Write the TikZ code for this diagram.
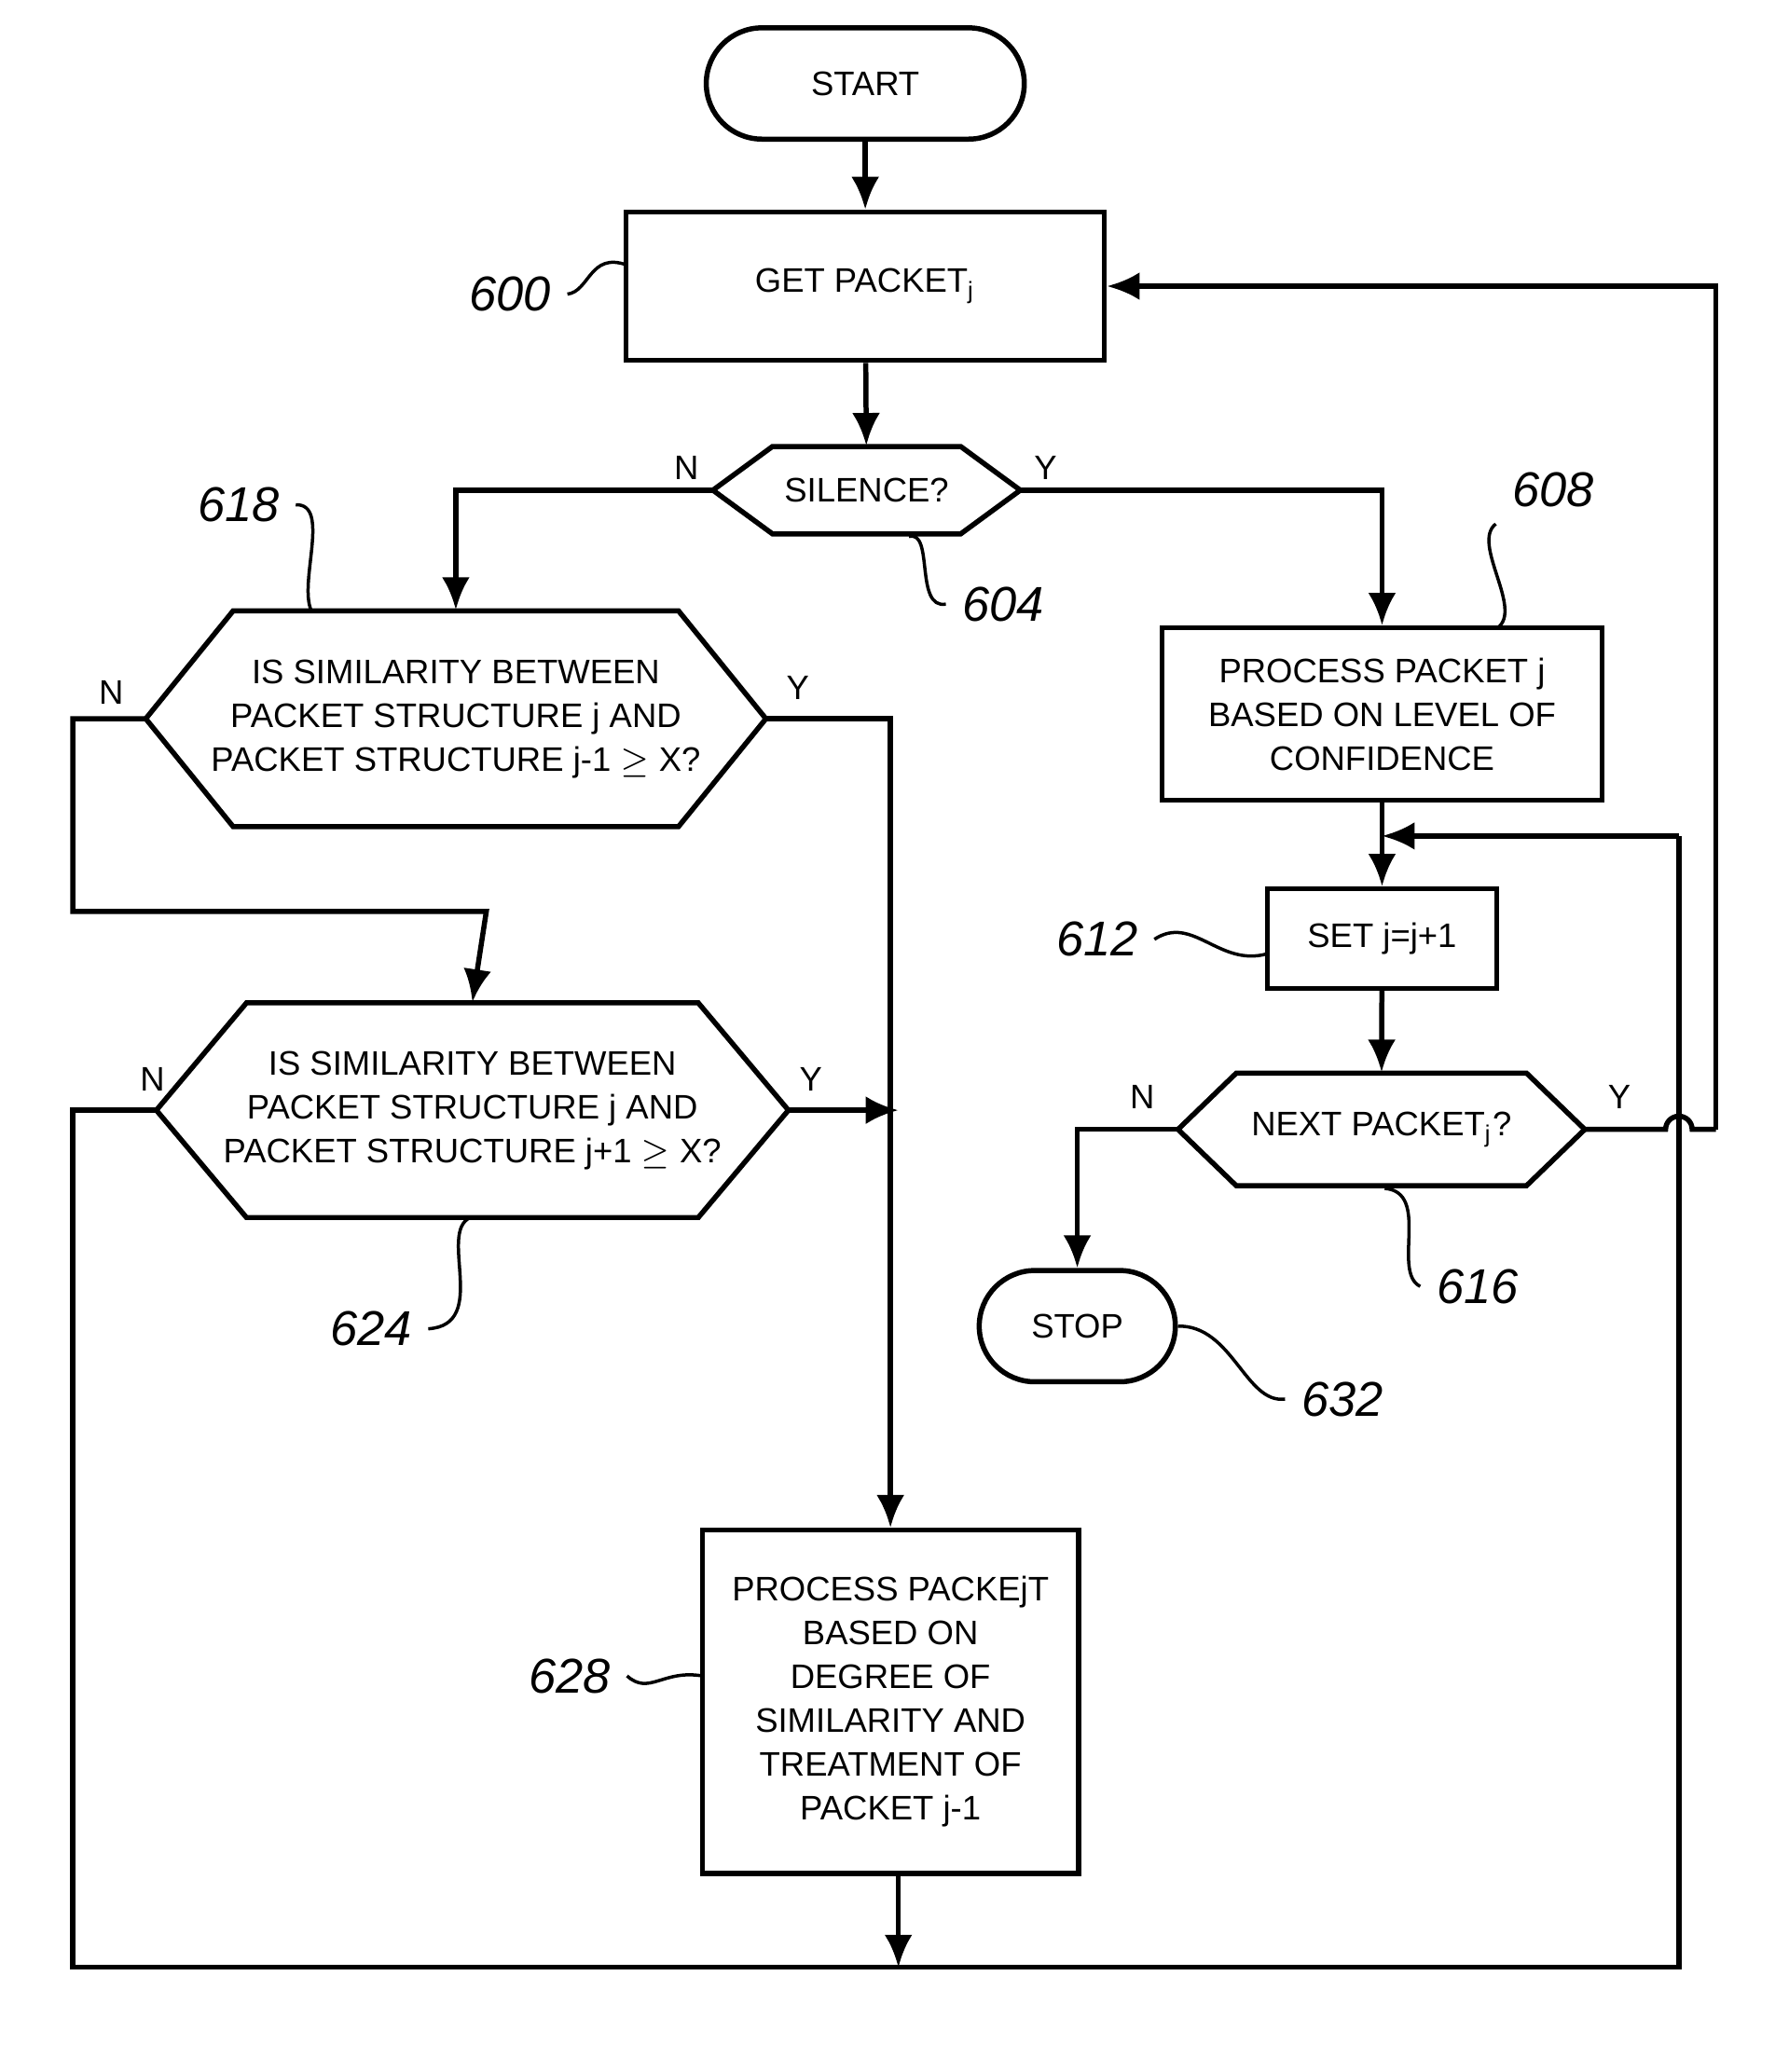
\documentclass[tikz,border=0pt]{standalone}
\usepackage{fontspec}
\setmainfont{Liberation Sans}
\usetikzlibrary{positioning,calc,arrows.meta}

\newcommand{\hexnode}[6]{% name, x, y, half width, half height, inset
  \draw[line width=1.1pt] ($(#2,#3)+(-#4,0)$) -- ++(#6,#5) -- ($(#2,#3)+(#4-#6,#5)$) -- ($(#2,#3)+(#4,0)$)
    -- ($(#2,#3)+(#4-#6,-#5)$) -- ($(#2,#3)+(-#4+#6,-#5)$) -- cycle;
  \node (#1)[hexa, minimum width=2*#4 cm, minimum height=2*#5 cm] at (#2,#3) {};}

\begin{document}
\begin{tikzpicture}[box/.style={draw,line width=1.1pt,align=center,font=\fontsize{7.3}{9.4}\selectfont},
  term/.style={box,rounded corners=0.42cm},
  hexa/.style={inner sep=0pt},
  txt/.style={align=center,font=\fontsize{7.3}{9.4}\selectfont},
  edge/.style={line width=1.1pt,-{Latex[length=7pt,width=6pt]}},
  line/.style={line width=1.1pt},
  ref/.style={font=\fontsize{10.5}{12}\selectfont\itshape},
  lead/.style={line width=0.7pt}]
\useasboundingbox (0,0) rectangle (13.5,-15.64);
% terminals and boxes
\node (start)[term, minimum width=2.4cm, minimum height=0.84cm] at (6.53,-0.63) {START};
\node (get)[box, minimum width=3.61cm, minimum height=1.12cm] at (6.53,-2.16) {GET PACKET\textsubscript{j}};
\node (conf)[box, minimum width=3.32cm, minimum height=1.30cm] at (10.43,-5.39) {PROCESS PACKET j\\BASED ON LEVEL OF\\CONFIDENCE};
\node (inc)[box, minimum width=1.73cm, minimum height=0.75cm] at (10.43,-7.085) {SET j=j+1};
\node (stop)[term, minimum width=1.48cm, minimum height=0.84cm] at (8.13,-10.01) {STOP};
\node (deg)[box, minimum width=2.84cm, minimum height=2.59cm] at (6.72,-12.845) {PROCESS PACKEjT\\BASED ON\\DEGREE OF\\SIMILARITY AND\\TREATMENT OF\\PACKET j-1};
% decisions
\hexnode{sil}{6.54}{-3.70}{1.16}{0.33}{0.45}
\node[txt] at (sil) {SILENCE?};
\hexnode{simA}{3.44}{-5.425}{2.34}{0.815}{0.66}
\node[txt] at (simA) {IS SIMILARITY BETWEEN\\PACKET STRUCTURE j AND\\PACKET STRUCTURE j-1 $\geq$ X?};
\hexnode{simB}{3.565}{-8.38}{2.385}{0.81}{0.68}
\node[txt] at (simB) {IS SIMILARITY BETWEEN\\PACKET STRUCTURE j AND\\PACKET STRUCTURE j+1 $\geq$ X?};
\hexnode{next}{10.425}{-8.525}{1.535}{0.425}{0.44}
\node[txt] at (next) {NEXT PACKET\textsubscript{j}?};
% coordinates of the loops
\coordinate (merge) at (6.78,-14.85);
\coordinate (back) at (10.43,-6.31);
\coordinate (hop) at (12.67,-8.525);
\coordinate (lead628) at (5.30,-12.65);
% connectors
\draw[edge] (start) -- (get);
\draw[edge] (get) -- (sil);
\draw[edge] (sil.west) -| (simA.north);
\draw[edge] (sil.east) -| (conf.north);
\draw[edge] (conf) -- (inc);
\draw[edge] (inc) -- (next);
\draw[edge] (next.west) -| (stop.north);
\draw[line] (next.east) -- ($(hop)+(-0.1,0)$) arc (180:0:0.1) -- (12.95,-8.525);
\draw[edge] (12.95,-8.525) |- (get.east);
\draw[edge] (simA.east) -| (deg.north);
\draw[edge] (simB.east) -- (6.78,-8.38);
\draw[edge] (simA.west) -- (0.55,-5.425) |- (3.67,-6.88) -- (simB.north);
\draw[line] (simB.west) -- (0.55,-8.38) |- (merge) -| (12.67,-6.31);
\draw[edge] (12.67,-6.31) -- (back);
\draw[edge] (deg.south -| merge) -- (merge);
% Y / N labels
\node[txt] at (5.18,-3.53) {N};
\node[txt] at (7.89,-3.53) {Y};
\node[txt] at (0.84,-5.23) {N};
\node[txt] at (6.02,-5.19) {Y};
\node[txt] at (1.15,-8.15) {N};
\node[txt] at (6.12,-8.15) {Y};
\node[txt] at (8.62,-8.28) {N};
\node[txt] at (12.22,-8.28) {Y};
% reference numerals
\node (r600)[ref] at (3.85,-2.22) {600};
\draw[lead] (r600.east) .. controls (4.45,-2.2) and (4.45,-1.9) .. (4.73,-2.0);
\node (r604)[ref] at (7.57,-4.56) {604};
\draw[lead] (r604.west) .. controls (6.9,-4.6) and (7.05,-4.0) .. (6.86,-4.05);
\node (r608)[ref] at (11.72,-3.70) {608};
\draw[lead] (r608.south west) .. controls (11.1,-4.1) and (11.5,-4.6) .. (11.3,-4.74);
\node (r618)[ref] at (1.80,-3.81) {618};
\draw[lead] (r618.east) .. controls (2.5,-3.8) and (2.25,-4.4) .. (2.35,-4.61);
\node (r612)[ref] at (8.28,-7.09) {612};
\draw[lead] (r612.east) .. controls (9.0,-6.9) and (9.2,-7.3) .. (9.56,-7.2);
\node (r616)[ref] at (11.15,-9.71) {616};
\draw[lead] (r616.west) .. controls (10.5,-9.6) and (10.8,-9.0) .. (10.45,-8.97);
\node (r624)[ref] at (2.80,-10.03) {624};
\draw[lead] (r624.east) .. controls (3.7,-10.0) and (3.3,-9.3) .. (3.55,-9.19);
\node (r632)[ref] at (10.13,-10.56) {632};
\draw[lead] (r632.west) .. controls (9.4,-10.6) and (9.3,-10.0) .. (stop.east);
\node (r628)[ref] at (4.30,-12.65) {628};
\draw[lead] (r628.east) .. controls (4.9,-12.8) and (5.0,-12.6) .. (lead628);
\end{tikzpicture}
\end{document}
